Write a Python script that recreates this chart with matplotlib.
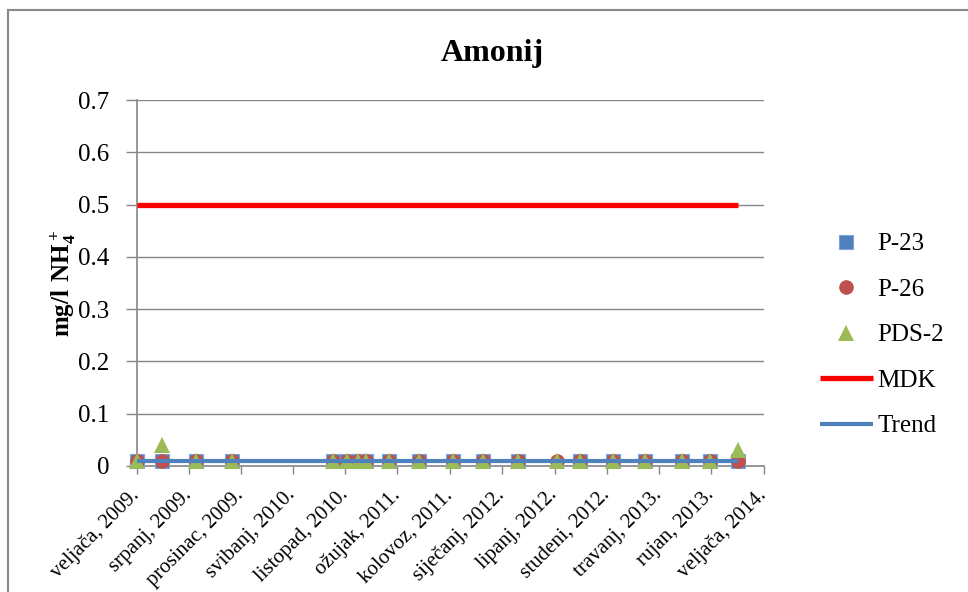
import matplotlib.pyplot as plt
import numpy as np
from datetime import datetime
from matplotlib.patches import Rectangle

plt.rcParams['font.family'] = ['Liberation Serif', 'DejaVu Serif']
plt.rcParams['mathtext.fontset'] = 'custom'
plt.rcParams['mathtext.rm'] = 'Liberation Serif'
plt.rcParams['mathtext.bf'] = 'Liberation Serif:bold'

# sampling dates and measured values (mg/l NH4+)
sample_dates = ['2009-02-01', '2009-04-15', '2009-07-23', '2009-11-04',
                '2010-08-26', '2010-10-07', '2010-11-07', '2010-12-01',
                '2011-02-04', '2011-05-04', '2011-08-10', '2011-11-07',
                '2012-02-15', '2012-06-07', '2012-08-13', '2012-11-19',
                '2013-02-19', '2013-06-07', '2013-08-28', '2013-11-16']
p23 = [0.01, 0.01, 0.01, 0.01, 0.01, 0.01, 0.01, 0.01, 0.01, 0.01,
       0.01, 0.01, 0.01, np.nan, 0.01, 0.01, 0.01, 0.01, 0.01, 0.01]
p26 = [0.01, 0.01, 0.01, 0.01, 0.01, 0.01, 0.01, 0.01, 0.01, 0.01,
       0.01, 0.01, 0.01, 0.01, 0.01, 0.01, 0.01, 0.01, 0.01, 0.01]
pds2 = [0.01, 0.04, 0.01, 0.01, 0.01, 0.01, 0.01, 0.01, 0.01, 0.01,
        0.01, 0.01, 0.01, 0.01, 0.01, 0.01, 0.01, 0.01, 0.01, 0.03]
mdk = 0.5
trend = [0.01, 0.01]

tick_dates = ['2009-02-01', '2009-07-01', '2009-12-01', '2010-05-01',
              '2010-10-01', '2011-03-01', '2011-08-01', '2012-01-01',
              '2012-06-01', '2012-11-01', '2013-04-01', '2013-09-01',
              '2014-02-01']
tick_labels = ['veljača, 2009.', 'srpanj, 2009.', 'prosinac, 2009.',
               'svibanj, 2010.', 'listopad, 2010.', 'ožujak, 2011.',
               'kolovoz, 2011.', 'siječanj, 2012.', 'lipanj, 2012.',
               'studeni, 2012.', 'travanj, 2013.', 'rujan, 2013.',
               'veljača, 2014.']

dates = [datetime.strptime(d, '%Y-%m-%d') for d in sample_dates]
ticks = [datetime.strptime(d, '%Y-%m-%d') for d in tick_dates]

fig = plt.figure(figsize=(9.68, 5.92), dpi=100)
ax = fig.add_axes([137/968, 1-466/592, (764-137)/968, (466-100)/592])

grey = '#868686'
ms = 10.5
ax.plot(dates, p23, 's', color='#4F81BD', ms=ms, mec='#7EA3D6', mew=0.8,
        label='P-23', clip_on=False, zorder=3)
ax.plot(dates, p26, 'o', color='#C0504D', ms=ms, mew=0,
        label='P-26', clip_on=False, zorder=4)
ax.plot(dates, pds2, '^', color='#9BBB59', ms=ms+1, mew=0,
        label='PDS-2', clip_on=False, zorder=5)
ax.plot([dates[0], dates[-1]], [mdk, mdk], color='#FF0000', lw=3.8,
        label='MDK', zorder=6, solid_capstyle='butt')
ax.plot([dates[0], dates[-1]], trend, color='#4F81BD', lw=3,
        label='Trend', zorder=7, solid_capstyle='butt')

ax.set_xlim(ticks[0], ticks[-1])
ax.set_ylim(0, 0.7)
yt = np.arange(0, 0.71, 0.1).round(1)
ax.set_yticks(yt)
ax.set_yticklabels([f'{v:g}' for v in yt])
ax.set_xticks(ticks)
ax.set_xticklabels(tick_labels, rotation=45, ha='right', va='center',
                   rotation_mode='anchor')
ax.tick_params(axis='y', labelsize=18, length=8, color=grey, width=1, pad=12)
ax.tick_params(axis='x', labelsize=15, length=6, color=grey, width=1, pad=13)

ax.grid(axis='y', color=grey, lw=1)
ax.set_axisbelow(True)
for s in ['top', 'right']:
    ax.spines[s].set_visible(False)
for s in ['left', 'bottom']:
    ax.spines[s].set_color(grey)
    ax.spines[s].set_linewidth(1.2)

ax.set_ylabel(r'$\mathbf{mg/l\ NH_4^+}$', fontsize=18, labelpad=0)
fig.text(492/968, 1-54/592, 'Amonij', fontsize=23, fontweight='bold',
         ha='center', va='center')

fig.legend(loc='center left', bbox_to_anchor=(820/968, 1-335/592),
           frameon=False, fontsize=18, labelspacing=0.92, handlelength=2.1,
           handletextpad=0.2, borderaxespad=0, borderpad=0)

fig.patches.append(Rectangle((8/968, -0.1), 1.0, 1.1 - 10/592,
                             transform=fig.transFigure, fill=False,
                             edgecolor='#888888', lw=1.5))

fig.savefig('out.png', dpi=100)
